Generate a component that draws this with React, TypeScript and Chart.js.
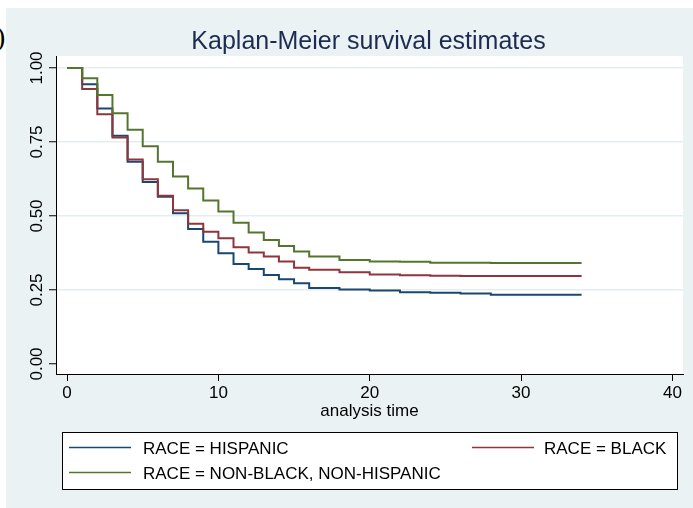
import React, { useEffect, useRef } from "react";
import { Chart, registerables } from "chart.js";

Chart.register(...registerables);

const TITLE = "Kaplan-Meier survival estimates";
const X_TITLE = "analysis time";
const PANEL_LABEL = "b)";

const TIMES = [0, 1, 2, 3, 4, 5, 6, 7, 8, 9, 10, 11, 12, 13, 14, 15, 16, 18, 20, 22, 24, 26, 28, 34];
const HISPANIC = [1.0, 0.945, 0.863, 0.771, 0.683, 0.615, 0.565, 0.509, 0.456, 0.413, 0.374, 0.338, 0.321, 0.301, 0.286, 0.273, 0.257, 0.252, 0.248, 0.242, 0.241, 0.238, 0.234, 0.234];
const BLACK = [1.0, 0.929, 0.844, 0.765, 0.691, 0.624, 0.568, 0.519, 0.474, 0.447, 0.425, 0.394, 0.377, 0.363, 0.346, 0.325, 0.318, 0.31, 0.302, 0.3, 0.298, 0.297, 0.297, 0.297];
const NON_BLACK_NON_HISPANIC = [1.0, 0.965, 0.909, 0.847, 0.791, 0.736, 0.683, 0.633, 0.593, 0.552, 0.515, 0.477, 0.444, 0.419, 0.399, 0.38, 0.363, 0.351, 0.346, 0.345, 0.342, 0.342, 0.341, 0.341];

const SERIES_LABELS = ["RACE = HISPANIC", "RACE = BLACK", "RACE = NON-BLACK, NON-HISPANIC"];
const SERIES_COLORS = ["#1a476f", "#90353b", "#55752f"];

const X_TICKS = [0, 10, 20, 30, 40];
const Y_TICKS = [0, 0.25, 0.5, 0.75, 1.0];

const FONT = "'Liberation Sans', Arial, Helvetica, sans-serif";
const BG = "#eaf2f3";

const toPoints = (vals: number[]) => TIMES.map((t, i) => ({ x: t, y: vals[i] }));

const decorPlugin = {
  id: "decor",
  beforeDraw(chart: any) {
    const { ctx, chartArea } = chart;
    ctx.save();
    ctx.fillStyle = BG;
    ctx.fillRect(0, 0, chart.width, chart.height);
    ctx.fillStyle = "#ffffff";
    ctx.fillRect(chartArea.left, chartArea.top, chartArea.right - chartArea.left, chartArea.bottom - chartArea.top);
    ctx.restore();
  },
  afterDraw(chart: any) {
    const { ctx, chartArea } = chart;
    ctx.save();
    // title
    ctx.fillStyle = "#1c2c50";
    ctx.font = `25px ${FONT}`;
    ctx.textAlign = "center";
    ctx.textBaseline = "alphabetic";
    ctx.fillText(TITLE, (chartArea.left + chartArea.right) / 2 - 1, 40.5);

    // y tick labels (rotated)
    const ys = chart.scales.y;
    ctx.fillStyle = "#000";
    ctx.font = `17px ${FONT}`;
    ctx.textAlign = "center";
    ctx.textBaseline = "middle";
    ys.ticks.forEach((t: any) => {
      const py = ys.getPixelForValue(t.value);
      ctx.save();
      ctx.translate(31, py);
      ctx.rotate(-Math.PI / 2);
      ctx.fillText(Number(t.value).toFixed(2), 0, 0);
      ctx.restore();
    });

    // legend
    const box = { x: 56, y: 424, w: 615, h: 57 };
    ctx.fillStyle = "#ffffff";
    ctx.fillRect(box.x, box.y, box.w, box.h);
    ctx.strokeStyle = "#000";
    ctx.lineWidth = 1;
    ctx.strokeRect(box.x + 0.5, box.y + 0.5, box.w, box.h);
    const entries = [
      { lx: 63, ly: 439.5, tx: 137 },
      { lx: 466, ly: 439.5, tx: 538 },
      { lx: 63, ly: 464.5, tx: 137 },
    ];
    ctx.font = `17px ${FONT}`;
    ctx.textAlign = "left";
    ctx.textBaseline = "middle";
    entries.forEach((e, i) => {
      ctx.strokeStyle = SERIES_COLORS[i];
      ctx.lineWidth = 1.5;
      ctx.beginPath();
      ctx.moveTo(e.lx, e.ly);
      ctx.lineTo(e.lx + 62, e.ly);
      ctx.stroke();
      ctx.fillStyle = "#000";
      ctx.fillText(SERIES_LABELS[i], e.tx, e.ly + 1.5);
    });
    ctx.restore();
  },
};

export default function App() {
  const canvasRef = useRef<HTMLCanvasElement | null>(null);

  useEffect(() => {
    const canvas = canvasRef.current;
    if (!canvas) return;
    const chart = new Chart(canvas, {
      type: "line",
      data: {
        datasets: [
          { label: SERIES_LABELS[0], data: toPoints(HISPANIC), borderColor: SERIES_COLORS[0], order: 3 },
          { label: SERIES_LABELS[1], data: toPoints(BLACK), borderColor: SERIES_COLORS[1], order: 2 },
          { label: SERIES_LABELS[2], data: toPoints(NON_BLACK_NON_HISPANIC), borderColor: SERIES_COLORS[2], order: 1 },
        ].map((d) => ({
          ...d,
          stepped: true,
          borderWidth: 2,
          pointRadius: 0,
          fill: false,
          tension: 0,
        })) as any,
      },
      options: {
        responsive: false,
        animation: false,
        devicePixelRatio: 1,
        layout: { padding: { top: 48, left: 0, right: 10, bottom: 86 } },
        plugins: {
          legend: { display: false },
          title: { display: false },
          tooltip: { enabled: false },
        },
        scales: {
          x: {
            type: "linear",
            min: -0.73,
            max: 40.7,
            afterBuildTicks: (scale: any) => {
              scale.ticks = X_TICKS.map((v) => ({ value: v }));
            },
            afterFit: (scale: any) => {
              scale.height = 48;
            },
            grid: {
              display: true,
              drawOnChartArea: false,
              drawTicks: true,
              tickLength: 7,
              tickColor: "#000",
              tickWidth: 1,
            },
            border: { display: true, color: "#000", width: 1 },
            ticks: {
              color: "#000",
              font: { family: FONT, size: 17 },
              padding: 2,
              maxRotation: 0,
              minRotation: 0,
              callback: (v: any) => String(v),
            },
            title: {
              display: true,
              text: X_TITLE,
              color: "#000",
              font: { family: FONT, size: 17 },
              padding: 0,
            },
          },
          y: {
            type: "linear",
            min: -0.0338,
            max: 1.0405,
            afterBuildTicks: (scale: any) => {
              scale.ticks = Y_TICKS.map((v) => ({ value: v }));
            },
            afterFit: (scale: any) => {
              scale.width = 50;
            },
            grid: {
              display: true,
              drawOnChartArea: true,
              drawTicks: true,
              tickLength: 7,
              tickColor: "#000",
              tickWidth: 1,
              lineWidth: 1.5,
              color: (c: any) => (c.tick && c.tick.value === 0 ? "rgba(0,0,0,0)" : "#e4edf0"),
            },
            border: { display: true, color: "#000", width: 1 },
            ticks: { display: false },
          },
        },
      },
      plugins: [decorPlugin],
    });
    return () => chart.destroy();
  }, []);

  return (
    <div style={{ position: "absolute", left: 0, top: 0, width: 693, height: 508, background: "#fff", overflow: "hidden" }}>
      <div style={{ position: "absolute", left: 6, top: 8, width: 687, height: 500 }}>
        <canvas ref={canvasRef} width={687} height={500} style={{ display: "block", width: 687, height: 500 }} />
      </div>
      <div
        style={{
          position: "absolute",
          left: -18,
          top: 23,
          fontFamily: "'Liberation Serif', 'Times New Roman', serif",
          fontSize: 28,
          lineHeight: "28px",
          color: "#000",
          whiteSpace: "nowrap",
        }}
      >
        {PANEL_LABEL}
      </div>
    </div>
  );
}
